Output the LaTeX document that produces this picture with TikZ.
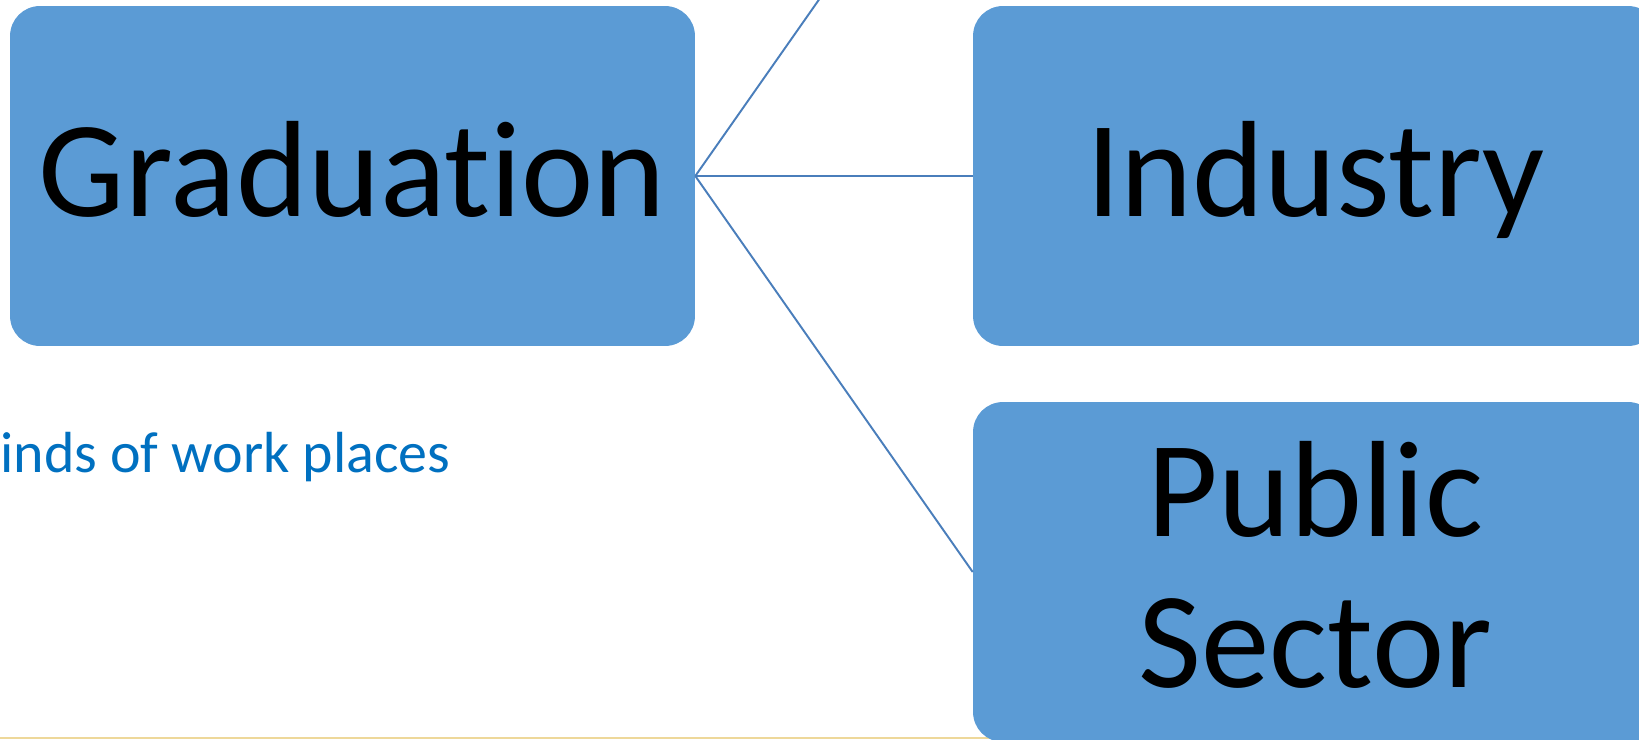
\documentclass[tikz,border=0pt]{standalone}
\usepackage{fontspec}
\setmainfont{Carlito}[Ligatures={NoCommon,NoRare}]
\definecolor{boxblue}{HTML}{5B9BD5}
\definecolor{linkblue}{HTML}{4A7EBB}
\definecolor{textblue}{HTML}{0070C0}
\definecolor{rulegold}{HTML}{EED89A}

\begin{document}
\begin{tikzpicture}[x=0.02cm, y=-0.02cm,
        box/.style={fill=boxblue, rounded corners=17pt, inner sep=0pt,
            minimum width=13.7cm, minimum height=6.8cm, align=center,
            font=\fontsize{78}{86}\selectfont, text height=46pt, text depth=0pt},
        conn/.style={draw=linkblue, line width=1.1pt}]
        % 画面の範囲
        \clip (0,0) rectangle (1639,740);

        % 下の細い線
        \draw[rulegold, line width=0.7pt] (0,738) -- (1000,738);

        % ボックス
        \node[box] (grad) at (352.5,176) {Graduation};
        \node[box] (ind) at (1315.5,176) {Industry};
        \node[box, text height=132pt] (pub) at (1315.5,572) {Public\\Sector};
        \coordinate (hidden) at (973,-220);

        % 接続線
        \draw[conn] (grad.east) -- (hidden);
        \draw[conn] (grad.east) -- (ind.west);
        \draw[conn] (grad.east) -- (pub.west);

        % 見出しの残り
        \node[anchor=base west, inner sep=0pt, text=textblue,
            font=\fontsize{33}{40}\selectfont] (caption) at (0,472) {inds of work places};
    \end{tikzpicture}
\end{document}
